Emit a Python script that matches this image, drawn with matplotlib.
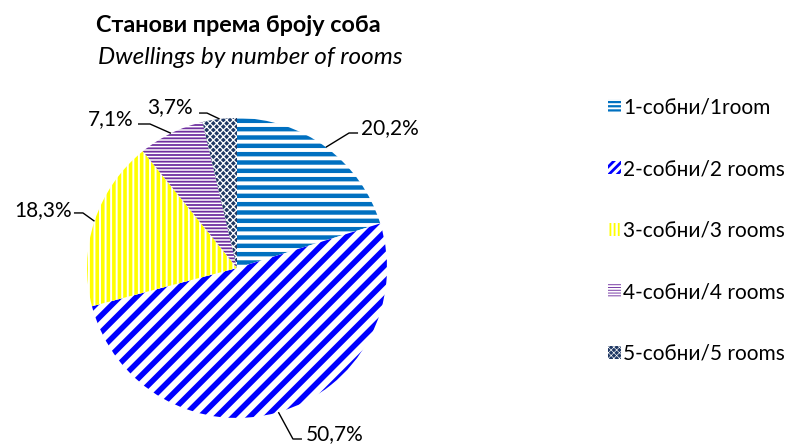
import matplotlib
matplotlib.use("Agg")
import matplotlib.pyplot as plt
import numpy as np
from matplotlib.patches import Patch

plt.rcParams['font.family'] = ['Lato', 'Noto Sans', 'DejaVu Sans']

# data
categories = ['1-собни/1room', '2-собни/2 rooms', '3-собни/3 rooms',
              '4-собни/4 rooms', '5-собни/5 rooms']
shares = [20.2, 50.7, 18.3, 7.1, 3.7]

# styles: (face, hatch, hatch color, hatch lw, legend hatch)
styles = [
    ('white', '--', '#0070C0', 3.2, '----'),
    ('white', '//', '#0000FF', 4.0, '////'),
    ('white', '|||', '#FFFF00', 2.6, '||||'),
    ('white', '-----', '#7030A0', 1.3, '------'),
    ('#1F3864', 'xxxxx', 'white', 0.9, 'xxxxxx'),
]

# label placement (text anchor, elbow, end of horizontal stub), pie radius = 1
label_pos = [
    ((0.83, 0.93), (0.747, 0.90), (0.807, 0.90), 'left'),
    ((0.46, -1.107), (0.373, -1.14), (0.433, -1.14), 'left'),
    ((-1.10, 0.387), (-1.027, 0.367), (-1.087, 0.367), 'right'),
    ((-0.687, 0.993), (-0.58, 0.96), (-0.66, 0.96), 'right'),
    ((-0.293, 1.073), (-0.20, 1.033), (-0.253, 1.033), 'right'),
]

W, H = 806, 444
fig = plt.figure(figsize=(W / 100, H / 100), dpi=100)

cx, cy, r = 237, 268, 150
ax = fig.add_axes([(cx - r) / W, (H - cy - r) / H, 2 * r / W, 2 * r / H])
wedges, _ = ax.pie(shares, startangle=90, counterclock=False, radius=1,
                   wedgeprops=dict(linewidth=0))
ax.set_xlim(-1, 1)
ax.set_ylim(-1, 1)
ax.set_aspect('auto')
ax.axis('off')


def style_patch(p, face, hatch, hc, hlw):
    p.set_facecolor(face)
    p.set_edgecolor(hc)
    p.set_linewidth(0)
    p.set_hatch(hatch)
    if hasattr(p, 'set_hatch_linewidth'):
        p.set_hatch_linewidth(hlw)


for w, st in zip(wedges, styles):
    style_patch(w, st[0], st[1], st[2], st[3])

for w, val, (txt, elbow, stub, ha) in zip(wedges, shares, label_pos):
    mid = np.deg2rad((w.theta1 + w.theta2) / 2)
    ex, ey = np.cos(mid), np.sin(mid)
    ax.plot([ex, elbow[0], stub[0]], [ey, elbow[1], stub[1]], color='black',
            lw=1, clip_on=False, solid_capstyle='butt')
    ax.text(txt[0], txt[1], f"{val:.1f}%".replace('.', ','), ha=ha,
            va='center', fontsize=15, clip_on=False)

fig.text(238 / W, 1 - 25 / H, 'Станови према броју соба', ha='center',
         va='center', fontsize=16.8, fontweight='bold')
fig.text(250 / W, 1 - 57 / H, 'Dwellings by number of rooms', ha='center',
         va='center', fontsize=17.5, style='italic')

handles = [Patch(facecolor='white') for st in styles]
leg = fig.legend(handles, categories, loc='upper left',
                 bbox_to_anchor=(600 / W, 1 - 89 / H), frameon=False,
                 fontsize=15, handlelength=0.6, handleheight=0.6,
                 handletextpad=0.1, labelspacing=2.0, borderaxespad=0)
for h, st in zip(leg.legend_handles, styles):
    style_patch(h, st[0], st[4], st[2], st[3] * 0.5)

fig.savefig('out.png', dpi=100)
